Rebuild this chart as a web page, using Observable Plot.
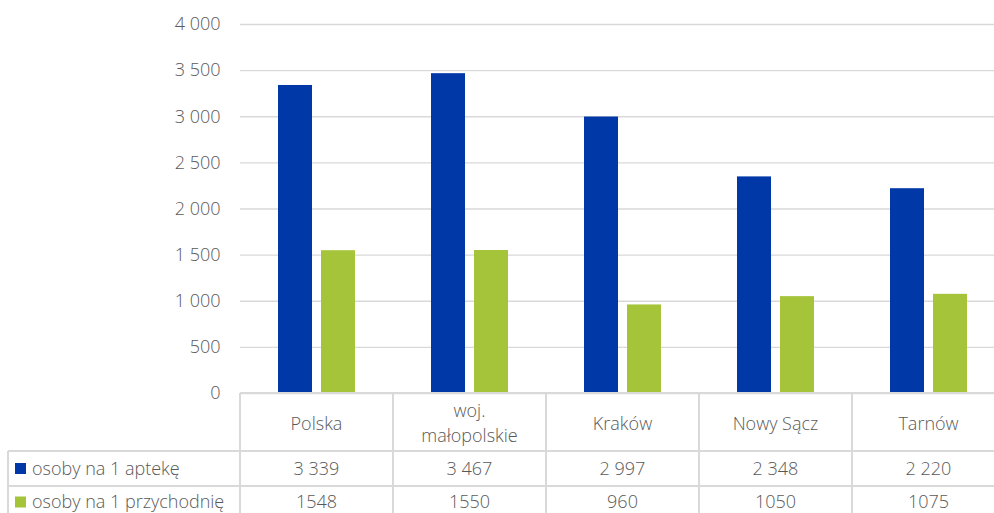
<!DOCTYPE html>
<html><head><meta charset="utf-8">
<script src="https://cdn.jsdelivr.net/npm/d3@7"></script>
<script src="https://cdn.jsdelivr.net/npm/@observablehq/plot@0.6"></script>
<style>html,body{margin:0;background:#fff;overflow:hidden}</style>
</head><body><div id="chart"></div>
<script>
const categories = ["Polska", "woj. małopolskie", "Kraków", "Nowy Sącz", "Tarnów"];
const categoryLines = [["Polska"], ["woj.", "małopolskie"], ["Kraków"], ["Nowy Sącz"], ["Tarnów"]];
const seriesNames = ["osoby na 1 aptekę", "osoby na 1 przychodnię"];
const apteka = [3339, 3467, 2997, 2348, 2220];
const przychodnia = [1548, 1550, 960, 1050, 1075];
const aptekaLabels = ["3 339", "3 467", "2 997", "2 348", "2 220"];
const przychodniaLabels = ["1548", "1550", "960", "1050", "1075"];
const yTicks = [0, 500, 1000, 1500, 2000, 2500, 3000, 3500, 4000];
const colors = ["#0038a8", "#a6c43a"];

const FONT = "'Open Sans'";
const FS = 18;
const FW = 300;
const TXT = "#595959";
const LINE = "#d9d9d9";

const data = categories.flatMap((c, i) => [
  {category: c, series: seriesNames[0], value: apteka[i]},
  {category: c, series: seriesNames[1], value: przychodnia[i]}
]);
const fmt = v => d3.format(",")(v).replace(/,/g, " ");

// The original chart continues a little past the right edge of the picture (cropped).
const plot = Plot.plot({
  width: 1006, height: 513,
  marginLeft: 238, marginRight: 0, marginTop: 24, marginBottom: 120,
  style: {fontFamily: FONT, fontSize: FS + "px", fontWeight: FW, color: TXT, background: "#fff"},
  fx: {domain: categories, padding: 0, axis: null},
  x: {domain: seriesNames, paddingInner: 0.2, paddingOuter: 0.846, axis: null},
  y: {domain: [0, 4000], label: null},
  color: {domain: seriesNames, range: colors},
  marks: [
    Plot.gridY(yTicks, {stroke: LINE, strokeOpacity: 1, strokeWidth: 1.3}),
    Plot.axisY(yTicks, {tickFormat: fmt, tickSize: 0, tickPadding: 20, fill: TXT, fontSize: FS, label: null}),
    Plot.barY(data, {fx: "category", x: "series", y: "value", fill: "series"})
  ]
});
// crop to the visible 994px, without scaling
plot.setAttribute("width", 994);
plot.setAttribute("viewBox", "0 0 994 513");
plot.style.maxWidth = "none";
plot.style.overflow = "hidden";
document.getElementById("chart").appendChild(plot);

// data table below the chart, aligned with the plot's own scales
const svg = d3.select(plot);
const fxs = plot.scale("fx");
const ys = plot.scale("y");
const bw = fxs.bandwidth;
const x0 = fxs.apply(categories[0]);
const xEnd = fxs.apply(categories[categories.length - 1]) + bw;
const y0 = ys.apply(0);
const row2 = 451, row3 = 486, bottom = 513;
const leftEdge = 8;
const g = svg.append("g").attr("font-family", FONT).attr("font-size", FS).attr("font-weight", FW)
  .attr("fill", TXT).attr("text-anchor", "middle");
const line = (x1, y1, x2, y2) => g.append("line").attr("x1", x1).attr("y1", y1).attr("x2", x2).attr("y2", y2)
  .attr("stroke", LINE).attr("stroke-width", 2);
line(x0, y0, xEnd, y0);
line(leftEdge, row2, xEnd, row2);
line(leftEdge, row3, xEnd, row3);
line(leftEdge, row2, leftEdge, bottom);
line(x0, y0, x0, bottom);
categories.forEach(c => { const x = fxs.apply(c) + bw; line(x, y0, x, bottom); });

categories.forEach((c, i) => {
  const cx = fxs.apply(c) + bw / 2;
  const lines = categoryLines[i];
  const mid = 423.5;
  lines.forEach((t, k) => {
    g.append("text").attr("x", cx).attr("y", mid + (k - (lines.length - 1) / 2) * 25)
      .attr("dy", "0.35em").text(t);
  });
  g.append("text").attr("x", cx).attr("y", (row2 + row3) / 2).attr("dy", "0.35em").text(aptekaLabels[i]);
  g.append("text").attr("x", cx).attr("y", row3 + 16).attr("dy", "0.35em").text(przychodniaLabels[i]);
});
[[row2, row3], [row3, row3 + 32]].forEach(([a, b], k) => {
  const cy = (a + b) / 2;
  g.append("rect").attr("x", 15).attr("y", cy - 5.5).attr("width", 11).attr("height", 11).attr("fill", colors[k]);
  g.append("text").attr("x", 32).attr("y", cy).attr("dy", "0.35em").attr("text-anchor", "start").text(seriesNames[k]);
});
</script>
</body></html>
